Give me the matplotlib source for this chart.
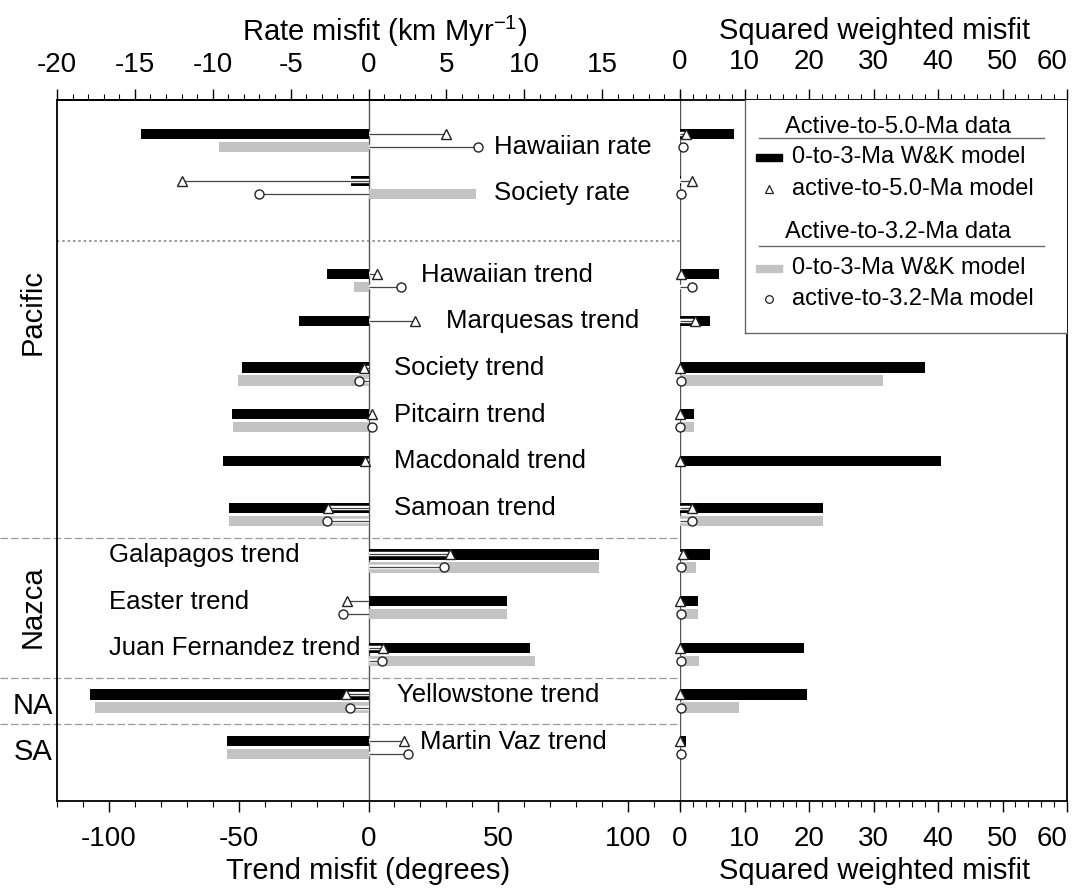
import numpy as np
import matplotlib
matplotlib.use('Agg')
import matplotlib.pyplot as plt
from matplotlib import patheffects as pe
from matplotlib.patches import Rectangle
from matplotlib.lines import Line2D
from matplotlib.ticker import MultipleLocator, FixedLocator
from matplotlib.transforms import blended_transform_factory

plt.rcParams['font.family'] = ['Liberation Sans', 'DejaVu Sans']
plt.rcParams['axes.unicode_minus'] = False
plt.rcParams['mathtext.fontset'] = 'custom'
plt.rcParams['mathtext.rm'] = 'Liberation Sans'
plt.rcParams['mathtext.it'] = 'Liberation Sans:italic'

# rows, top to bottom (first two are rates in km/Myr, the rest trends in degrees)
names = ['Hawaiian rate', 'Society rate', 'Hawaiian trend', 'Marquesas trend',
         'Society trend', 'Pitcairn trend', 'Macdonald trend', 'Samoan trend',
         'Galapagos trend', 'Easter trend', 'Juan Fernandez trend',
         'Yellowstone trend', 'Martin Vaz trend']
is_rate = np.array([True, True] + [False] * 11)

# misfits, left panel
wk_50 = np.array([-14.6, -1.1, -15.8, -26.9, -48.8, -52.4, -56.2, -53.6, 88.9, 53.4, 62.1, -107.1, -54.6])
mod_50 = np.array([5.0, -12.0, 3.1, 18.1, -1.9, 1.4, -1.4, -15.5, 31.3, -8.2, 5.5, -8.5, 13.5])
wk_32 = np.array([-9.6, 6.9, -5.5, np.nan, -50.1, -52.2, np.nan, -53.6, 88.9, 53.4, 64.0, -105.2, -54.6])
mod_32 = np.array([7.0, -7.0, 12.7, np.nan, -3.8, 1.2, np.nan, -15.8, 29.0, -10.0, 5.2, -7.0, 15.4])

# squared weighted misfits, right panel
chi_wk_50 = np.array([8.3, 0.1, 6.1, 4.6, 38.0, 2.1, 40.4, 22.1, 4.6, 2.8, 19.2, 19.7, 0.9])
chi_mod_50 = np.array([1.0, 1.8, 0.15, 2.3, 0.0, 0.0, 0.0, 1.9, 0.5, 0.0, 0.0, 0.0, 0.0])
chi_wk_32 = np.array([0.0, 0.0, 0.0, np.nan, 31.5, 2.1, np.nan, 22.1, 2.5, 2.8, 3.0, 9.2, 0.0])
chi_mod_32 = np.array([0.5, 0.1, 1.9, np.nan, 0.1, 0.0, np.nan, 1.9, 0.1, 0.1, 0.1, 0.1, 0.1])

groups = ['Pacific', 'Nazca', 'NA', 'SA']

# layout
row_y = np.array([0, 1, 3, 4, 5, 6, 7, 8, 9, 10, 11, 12, 13])
label_x = [48.5, 48.5, 20.4, 30, 10, 10, 10, 10, -100, -100, -100, 10.8, 19.9]
group_y = [3.67, 9.99, 12.1, 13.1]
group_rot = [90, 90, 0, 0]
sep_y = [8.5, 11.5, 12.5]
RATE2TREND = 6.0
off, bh = 0.14, 0.22
GRAY = '#c3c3c3'

W, H = 1075, 890
fig = plt.figure(figsize=(W / 100, H / 100), dpi=100)


def box(x0, y0, x1, y1):
    return [x0 / W, 1 - y1 / H, (x1 - x0) / W, (y1 - y0) / H]


axL = fig.add_axes(box(57, 100, 680, 801))
axR = fig.add_axes(box(680, 100, 1067, 801))

halo = [pe.withStroke(linewidth=3.2, foreground='white')]


def draw(ax, black, tri, gray, circ):
    ax.barh(row_y - off, np.nan_to_num(black), height=bh, color='black', zorder=2)
    ax.barh(row_y + off, np.nan_to_num(gray), height=bh, color=GRAY, zorder=2)
    for vals, ys in ((tri, row_y - off), (circ, row_y + off)):
        for v, y in zip(vals, ys):
            if not np.isnan(v):
                ax.plot([0, v], [y, y], color='#444', lw=0.9, path_effects=halo,
                        zorder=3, solid_capstyle='butt')
    ax.plot(tri, row_y - off, ls='none', marker='^', ms=7.5, mfc='white', mec='#222',
            mew=1.0, zorder=4, clip_on=False)
    ax.plot(circ, row_y + off, ls='none', marker='o', ms=6.5, mfc='white', mec='#222',
            mew=1.0, zorder=4, clip_on=False)


scale = np.where(is_rate, RATE2TREND, 1.0)
draw(axL, wk_50 * scale, mod_50 * scale, wk_32 * scale, mod_32 * scale)
draw(axR, chi_wk_50, chi_mod_50, chi_wk_32, chi_mod_32)

for ax in (axL, axR):
    ax.set_ylim(14.14, -0.867)
    ax.set_yticks([])
    ax.axvline(0, color='#555', lw=1.0, zorder=1)
    for s in ax.spines.values():
        s.set_linewidth(1.3)
    ax.tick_params(axis='x', which='major', direction='out', length=8, width=1,
                   labelsize=20, pad=10)
    ax.tick_params(axis='x', which='minor', direction='out', length=4, width=0.8)

axL.spines['right'].set_visible(False)
axR.spines['left'].set_visible(False)

axL.set_xlim(-120, 120)
axL.xaxis.set_major_locator(FixedLocator([-100, -50, 0, 50, 100]))
axL.xaxis.set_minor_locator(MultipleLocator(10))
top = axL.secondary_xaxis('top', functions=(lambda x: x / RATE2TREND, lambda r: r * RATE2TREND))
top.xaxis.set_major_locator(FixedLocator([-20, -15, -10, -5, 0, 5, 10, 15]))
top.xaxis.set_minor_locator(MultipleLocator(1))
top.tick_params(axis='x', which='major', direction='out', length=8, width=1, labelsize=20, pad=8)
top.tick_params(axis='x', which='minor', direction='out', length=4, width=0.8)
top.spines['top'].set_linewidth(1.3)

axR.set_xlim(0, 60)
axR.xaxis.set_major_locator(MultipleLocator(10))
axR.xaxis.set_minor_locator(MultipleLocator(2))
axR.tick_params(axis='x', which='both', top=True, labeltop=True)
axR.tick_params(axis='x', which='major', labeltop=True, pad=10)

# separators
axL.axhline(2.15, color='#777', lw=1.1, ls=(0, (1.5, 2)), zorder=1)
trans = blended_transform_factory(fig.transFigure, axL.transData)
for y in sep_y:
    axL.add_line(Line2D([0, 1067 / W], [y, y], transform=trans, color='#9a9a9a',
                        lw=0.9, ls=(0, (6, 2.5)), clip_on=False, zorder=1))

# row labels
for name, x, y, r in zip(names, label_x, row_y, is_rate):
    axL.text(x, y + (0.13 if r else -0.13), name, fontsize=18.5, ha='left', va='center', zorder=5)

for g, y, rot in zip(groups, group_y, group_rot):
    axL.text(33 / W, y, g, transform=trans, fontsize=21, rotation=rot,
             ha='center', va='center')

# axis titles
fig.text(385 / W, 1 - 31 / H, r'Rate misfit (km Myr$^{-1}$)', fontsize=21, ha='center', va='center')
fig.text(875 / W, 1 - 31 / H, 'Squared weighted misfit', fontsize=21, ha='center', va='center')
fig.text(368 / W, 1 - 871 / H, 'Trend misfit (degrees)', fontsize=21, ha='center', va='center')
fig.text(875 / W, 1 - 871 / H, 'Squared weighted misfit', fontsize=21, ha='center', va='center')

# legend box
lg = fig.add_axes(box(745, 100, 1067, 333))
lg.set_xlim(0, 322)
lg.set_ylim(233, 0)
lg.set_xticks([])
lg.set_yticks([])
for s in lg.spines.values():
    s.set_color('#666')
    s.set_linewidth(1.0)
lg.spines['top'].set_visible(False)
lg.spines['right'].set_visible(False)
fs = 17
lg.text(153, 27, 'Active-to-5.0-Ma data', fontsize=fs, ha='center', va='center')
lg.plot([14, 299], [38, 38], color='#666', lw=1)
lg.add_patch(Rectangle((11, 54), 26, 7, color='black'))
lg.text(47, 57, '0-to-3-Ma W&K model', fontsize=fs, va='center')
lg.plot([24], [89], marker='^', ms=6, mfc='white', mec='#222', mew=0.9)
lg.text(47, 89, 'active-to-5.0-Ma model', fontsize=fs, va='center')
lg.text(153, 132, 'Active-to-3.2-Ma data', fontsize=fs, ha='center', va='center')
lg.plot([14, 299], [146, 146], color='#666', lw=1)
lg.add_patch(Rectangle((11, 165), 26, 7, color=GRAY))
lg.text(47, 168, '0-to-3-Ma W&K model', fontsize=fs, va='center')
lg.plot([24], [199], marker='o', ms=5.5, mfc='white', mec='#222', mew=0.9)
lg.text(47, 199, 'active-to-3.2-Ma model', fontsize=fs, va='center')

# keep the last "60" labels inside the figure
fig.canvas.draw()
for t in axR.xaxis.get_major_ticks():
    if abs(t.get_loc() - 60) < 1e-6:
        t.label1.set_ha('right')
        t.label2.set_ha('right')

fig.savefig('out.png', dpi=100)
